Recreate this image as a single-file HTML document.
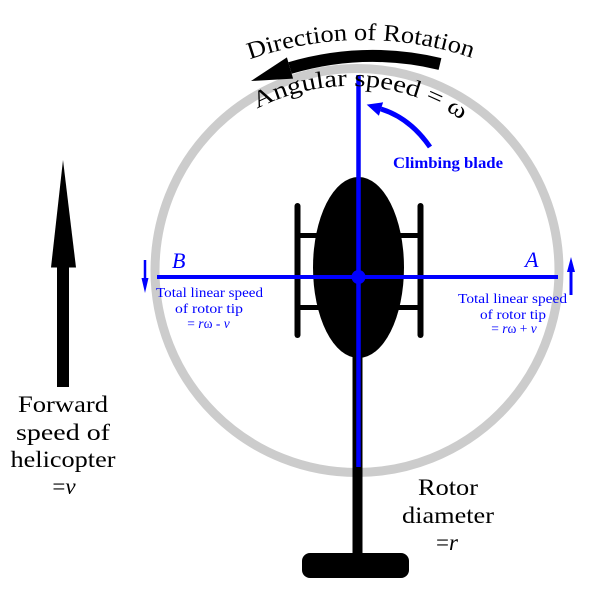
<!DOCTYPE html>
<html>
<head>
<meta charset="utf-8">
<style>
html,body{margin:0;padding:0;background:#fff;}
svg{display:block;}
text{font-family:"Liberation Serif",serif;}
</style>
</head>
<body>
<svg width="600" height="600" viewBox="0 0 600 600" xmlns="http://www.w3.org/2000/svg">
<rect width="600" height="600" fill="#fff"/>
<defs>
<path id="dirPath" d="M 219.3 71.9 A 340 340 0 0 1 506.7 71.9"/>
<path id="angPath" d="M 221.4 132.8 A 200 200 0 0 1 478.6 132.8"/>
</defs>

<!-- ring -->
<circle cx="357" cy="270.5" r="202" fill="none" stroke="#cccccc" stroke-width="9"/>

<!-- tail boom and tail skid -->
<rect x="352.5" y="300" width="10" height="258" fill="#000"/>
<rect x="302" y="553" width="107" height="25" rx="8" ry="8" fill="#000"/>

<!-- skids -->
<g stroke="#000" stroke-width="6" stroke-linecap="round">
<line x1="297.5" y1="206" x2="297.5" y2="335"/>
<line x1="420.5" y1="206" x2="420.5" y2="335"/>
</g>
<g stroke="#000" stroke-width="5">
<line x1="297.5" y1="235.5" x2="335" y2="235.5"/>
<line x1="297.5" y1="307.5" x2="335" y2="307.5"/>
<line x1="385" y1="235.5" x2="420.5" y2="235.5"/>
<line x1="385" y1="307.5" x2="420.5" y2="307.5"/>
</g>

<!-- body -->
<ellipse cx="358.5" cy="267.5" rx="45.5" ry="90.5" fill="#000"/>

<!-- rotor blades -->
<line x1="358.5" y1="75" x2="358.5" y2="467" stroke="#0000ff" stroke-width="4.5"/>
<line x1="157" y1="277" x2="558" y2="277" stroke="#0000ff" stroke-width="4"/>
<circle cx="358.5" cy="277" r="7" fill="#0000ff"/>

<!-- small tip arrows -->
<line x1="145" y1="260" x2="145" y2="280" stroke="#0000ff" stroke-width="2.5"/>
<polygon points="141.5,278 148.5,278 145,293" fill="#0000ff"/>
<line x1="571" y1="295" x2="571" y2="270" stroke="#0000ff" stroke-width="3"/>
<polygon points="567,272 575,272 571,257" fill="#0000ff"/>

<!-- forward arrow -->
<rect x="57" y="265" width="12" height="122" fill="#000"/>
<polygon points="63,160 51,267.5 76,267.5" fill="#000"/>

<!-- rotation arrow -->
<path d="M 440 64 Q 365 46 290 68" fill="none" stroke="#000" stroke-width="12"/>
<polygon points="251,81 286.9,57.4 293.1,78.6" fill="#000"/>

<!-- climbing blade arrow -->
<path d="M 430 147 Q 410 118 381 109" fill="none" stroke="#0000ff" stroke-width="5"/>
<polygon points="366.7,104.6 383.1,102.3 378.9,115.7" fill="#0000ff"/>

<!-- curved texts -->
<text font-size="24" fill="#000"><textPath href="#dirPath" startOffset="33" textLength="226" lengthAdjust="spacingAndGlyphs">Direction of Rotation</textPath></text>
<text font-size="24" fill="#000"><textPath href="#angPath" startOffset="43" textLength="215" lengthAdjust="spacingAndGlyphs">Angular speed = ω</textPath></text>

<!-- Climbing blade label -->
<text x="393" y="168" font-size="16" font-weight="bold" fill="#0000ff" textLength="110" lengthAdjust="spacingAndGlyphs">Climbing blade</text>

<!-- A / B -->
<text x="172" y="268" font-size="22" font-style="italic" fill="#0000ff">B</text>
<text x="525" y="267" font-size="22" font-style="italic" fill="#0000ff">A</text>

<!-- left tip label -->
<g font-size="13.5" fill="#0000ff" text-anchor="middle">
<text x="209.5" y="297" textLength="107" lengthAdjust="spacingAndGlyphs">Total linear speed</text>
<text x="209" y="313" textLength="68" lengthAdjust="spacingAndGlyphs">of rotor tip</text>
<text x="208.5" y="328">= <tspan font-style="italic">r</tspan>ω - <tspan font-style="italic">v</tspan></text>
</g>
<!-- right tip label -->
<g font-size="13.5" fill="#0000ff" text-anchor="middle">
<text x="512.5" y="303" textLength="109" lengthAdjust="spacingAndGlyphs">Total linear speed</text>
<text x="513" y="319" textLength="66" lengthAdjust="spacingAndGlyphs">of rotor tip</text>
<text x="514" y="333">= <tspan font-style="italic">r</tspan>ω + <tspan font-style="italic">v</tspan></text>
</g>

<!-- forward speed label -->
<g font-size="23" fill="#000" text-anchor="middle">
<text x="63" y="412" textLength="90" lengthAdjust="spacingAndGlyphs">Forward</text>
<text x="63" y="440" textLength="94" lengthAdjust="spacingAndGlyphs">speed of</text>
<text x="63" y="467" textLength="105" lengthAdjust="spacingAndGlyphs">helicopter</text>
<text x="64" y="494">=<tspan font-style="italic">v</tspan></text>
</g>

<!-- rotor diameter label -->
<g font-size="23" fill="#000" text-anchor="middle">
<text x="448" y="495" textLength="60" lengthAdjust="spacingAndGlyphs">Rotor</text>
<text x="448" y="523" textLength="92" lengthAdjust="spacingAndGlyphs">diameter</text>
<text x="447" y="550">=<tspan font-style="italic">r</tspan></text>
</g>
</svg>
</body>
</html>
